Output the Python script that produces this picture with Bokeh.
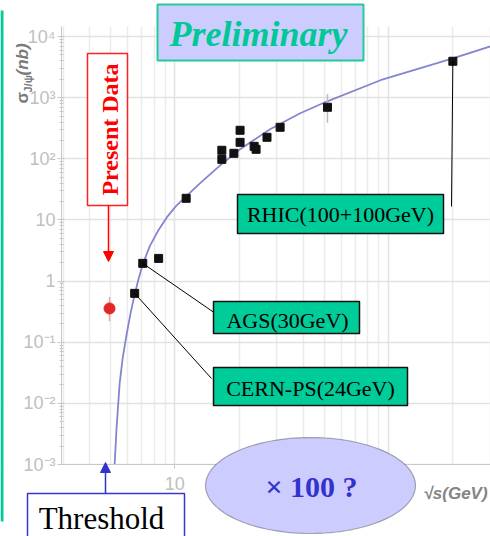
import numpy as np
from bokeh.plotting import figure
from bokeh.models import (Range1d, FixedTicker, BoxAnnotation, PolyAnnotation,
                          Label, Arrow, NormalHead)
from bokeh.embed import file_html
from bokeh.resources import INLINE

# J/psi production cross sections, sqrt(s) in GeV, sigma in nb
sqrt_s = [6.49, 7.08, 8.4, 11.3, 16.6, 16.6, 18.9, 20.2, 20.2, 23.5, 24.0, 27.0, 31.1, 51.8, 200.0]
sigma = [0.63, 1.95, 2.35, 22.6, 138, 98, 123, 293, 186, 160, 143, 225, 328, 697, 3940]

# error bar on the ISR point
isr_x = [51.8]
isr_lo = [390]
isr_hi = [1150]

# present measurement
present_sqrt_s = [4.95]
present_sigma = [0.357]
present_lo = [0.22]
present_hi = [0.55]

# fitted energy dependence
fit_sqrt_s = [5.23, 5.34, 5.52, 5.70, 5.95, 6.22, 6.49, 6.78, 7.08, 7.63, 8.32, 9.17,
              10.1, 11.3, 13.1, 16.3, 20.2, 27.9, 38.6, 51.7, 91.7, 200, 301]
fit_sigma = [0.001, 0.00403, 0.0212, 0.0543, 0.134, 0.308, 0.606, 1.11, 1.88, 3.70, 6.51, 11.0,
             16.7, 24.3, 39.7, 78.3, 143, 304, 556, 873, 1930, 4410, 6940]

y_ticks = [1e-3, 1e-2, 1e-1, 1.0, 10.0, 100.0, 1000.0, 10000.0]
y_tick_labels = ["10\u207b\u00b3", "10\u207b\u00b2", "10\u207b\u00b9", "1", "10",
                 "10\u00b2", "10\u00b3", "10\u2074"]
x_ticks = [10.0, 100.0]
x_tick_labels = ["10", "100"]

# page size and the rectangle (in canvas pixels) that holds the axes
W, H = 490, 536
PL, PR, PT, PB = 61, 490, 26, 464
X_LO, X_HI = 2.95, 300.0
Y_LO, Y_HI = 1e-3, 1.46e4

# the frame fills the whole canvas so that the labels and boxes around the
# axes are not clipped; the ranges are widened to keep the axes in place
dpx = (PR - PL) / (np.log10(X_HI) - np.log10(X_LO))
dpy = (PB - PT) / (np.log10(Y_HI) - np.log10(Y_LO))
x_range = Range1d(10 ** (np.log10(X_LO) - PL / dpx), 10 ** (np.log10(X_HI) + (W - PR) / dpx))
y_range = Range1d(10 ** (np.log10(Y_LO) - (H - PB) / dpy), 10 ** (np.log10(Y_HI) + PT / dpy))

p = figure(width=W, height=H, x_axis_type="log", y_axis_type="log",
           x_range=x_range, y_range=y_range,
           output_backend="svg", toolbar_location=None,
           min_border=0, min_border_left=0, min_border_right=0,
           min_border_top=0, min_border_bottom=0)
p.outline_line_color = None
p.background_fill_color = "white"
p.border_fill_color = "white"

AX = "#c8c8c8"
LBL = "#c0c0c0"

y_minor = [k * 10.0 ** e for e in range(-3, 4) for k in range(2, 10)]
p.yaxis.fixed_location = X_LO
p.yaxis.bounds = (Y_LO, Y_HI)
p.yaxis.ticker = FixedTicker(ticks=y_ticks, minor_ticks=y_minor)
p.yaxis.major_label_overrides = dict(zip(y_ticks, y_tick_labels))
p.yaxis.axis_line_color = AX
p.yaxis.major_tick_line_color = AX
p.yaxis.minor_tick_line_color = AX
p.yaxis.major_tick_out = 4
p.yaxis.major_tick_in = 3
p.yaxis.minor_tick_out = 2
p.yaxis.minor_tick_in = 2
p.yaxis.major_label_standoff = 2
p.yaxis.major_label_text_font = "Liberation Sans"
p.yaxis.major_label_text_font_size = "18px"
p.yaxis.major_label_text_color = LBL

x_minor = [k * 10.0 ** e for e in range(0, 3) for k in range(2, 10)]
p.xaxis.fixed_location = Y_LO
p.xaxis.bounds = (X_LO, X_HI)
p.xaxis.ticker = FixedTicker(ticks=x_ticks, minor_ticks=x_minor)
p.xaxis.major_label_overrides = dict(zip(x_ticks, x_tick_labels))
p.xaxis.axis_line_color = AX
p.xaxis.major_tick_line_color = AX
p.xaxis.minor_tick_line_color = None
p.xaxis.major_tick_out = 4
p.xaxis.major_tick_in = 0
p.xaxis.major_label_standoff = 8
p.xaxis.major_label_text_font = "Liberation Sans"
p.xaxis.major_label_text_font_size = "18px"
p.xaxis.major_label_text_color = LBL

p.xgrid.grid_line_color = "#e2e2e2"
p.xgrid.grid_line_width = 1.5
p.xgrid.minor_grid_line_color = "#ebebeb"
p.xgrid.minor_grid_line_width = 1.5
p.ygrid.grid_line_color = "#e2e2e2"
p.ygrid.grid_line_width = 1.5


def box(l, t, r, b, fill, line, lw=1.5, level="annotation"):
    p.add_layout(BoxAnnotation(left=l, right=r, top=t, bottom=b,
                               left_units="canvas", right_units="canvas",
                               top_units="canvas", bottom_units="canvas",
                               fill_color=fill, fill_alpha=1.0,
                               line_color=line, line_width=lw, line_alpha=1.0,
                               level=level))


def text(x, y, s, size, color, font="Liberation Serif", style="normal",
         align="center", baseline="middle", angle=0.0):
    p.add_layout(Label(x=x, y=y, x_units="canvas", y_units="canvas", text=s,
                       text_font=font, text_font_size=f"{size}px", text_color=color,
                       text_font_style=style, text_align=align, text_baseline=baseline,
                       angle=angle))


def connector(x_data, y_data, x_px, y_px):
    p.add_layout(Arrow(x_start=x_data, y_start=y_data, start_units="data",
                       x_end=x_px, y_end=y_px, end_units="canvas",
                       end=None, line_color="black", line_width=1))


# blank margins around the axes rectangle (hide grid lines there)
box(0, 0, W, PT, "white", None, 0, level="glyph")
box(0, PB, W, H, "white", None, 0, level="glyph")
box(0, 0, PL, H, "white", None, 0, level="glyph")

# fit curve, error bars and points
p.line(fit_sqrt_s, fit_sigma, line_color="#8585CF", line_width=1.8)
p.segment(isr_x, isr_lo, isr_x, isr_hi, line_color="#bbbbbb", line_width=1.5)
p.segment(present_sqrt_s, present_lo, present_sqrt_s, present_hi, line_color="#f0a0a0", line_width=1.5)
p.scatter(sqrt_s, sigma, marker="square", size=8, fill_color="#111111", line_color="#111111")
p.scatter(present_sqrt_s, present_sigma, marker="circle", size=11, fill_color="#E02828", line_color="#E02828")

# side bar
box(0, 10, 3, 521, "#00CC99", None, 0)

# axis titles
text(22, 103, "\u03c3", 17, "#7a7a7a", font="Liberation Sans", style="bold",
     align="left", angle=np.pi / 2)
text(27, 92, "J/\u03c8", 11, "#7a7a7a", font="Liberation Sans", style="bold",
     align="left", angle=np.pi / 2)
text(22, 75, "(nb)", 17, "#7a7a7a", font="Liberation Sans", style="bold italic",
     align="left", angle=np.pi / 2)
text(423, 493, "\u221as(GeV)", 17, "#858585", font="Liberation Sans", style="bold italic",
     align="left")

# connectors from the labelled points
connector(sqrt_s[-1], sigma[-1], 451, 206)
connector(sqrt_s[1], sigma[1], 215, 313)
connector(sqrt_s[0], sigma[0], 211, 378)

# title box
box(157, 4, 363, 60, "#CCCCFF", "#22CC99", 2)
text(258, 33, "Preliminary", 36, "#00C896", style="bold italic")

# accelerator labels
box(237, 194, 443, 233, "#00CC99", "#111111")
text(340, 214, "RHIC(100+100GeV)", 22, "black")
box(213, 301, 359, 333, "#00CC99", "#111111")
text(287, 320, "AGS(30GeV)", 22, "black")
box(213, 367, 407, 405, "#00CC99", "#111111")
text(310, 388, "CERN-PS(24GeV)", 22, "black")

# present data label with arrow
box(87, 53, 127, 205, "white", "#FF2020")
text(109, 129, "Present Data", 24, "#FF0000", style="bold", angle=np.pi / 2)
p.add_layout(Arrow(x_start=108, y_start=205, x_end=108, y_end=261,
                   start_units="canvas", end_units="canvas",
                   end=NormalHead(size=10, fill_color="#FF0000", line_color="#FF0000"),
                   line_color="#FF0000", line_width=1.5))

# threshold label with arrow
box(27, 493, 184, 545, "white", "#3838D0")
text(101, 518, "Threshold", 31, "black")
p.add_layout(Arrow(x_start=105, y_start=493, x_end=105, y_end=462,
                   start_units="canvas", end_units="canvas",
                   end=NormalHead(size=10, fill_color="#3333CC", line_color="#3333CC"),
                   line_color="#3333CC", line_width=1.5))

# scale factor bubble
t = np.linspace(0, 2 * np.pi, 120)
cx, cy, rx, ry = 310, 485, 105, 48
p.add_layout(PolyAnnotation(xs=list(cx + rx * np.cos(t)), ys=list(cy + ry * np.sin(t)),
                            xs_units="canvas", ys_units="canvas",
                            fill_color="#CCCCFF", fill_alpha=1.0,
                            line_color="black", line_width=1.2))
text(311, 486, "\u00d7 100 ?", 30, "#3333CC", style="bold")

open("out.html", "w").write(file_html(p, INLINE))
